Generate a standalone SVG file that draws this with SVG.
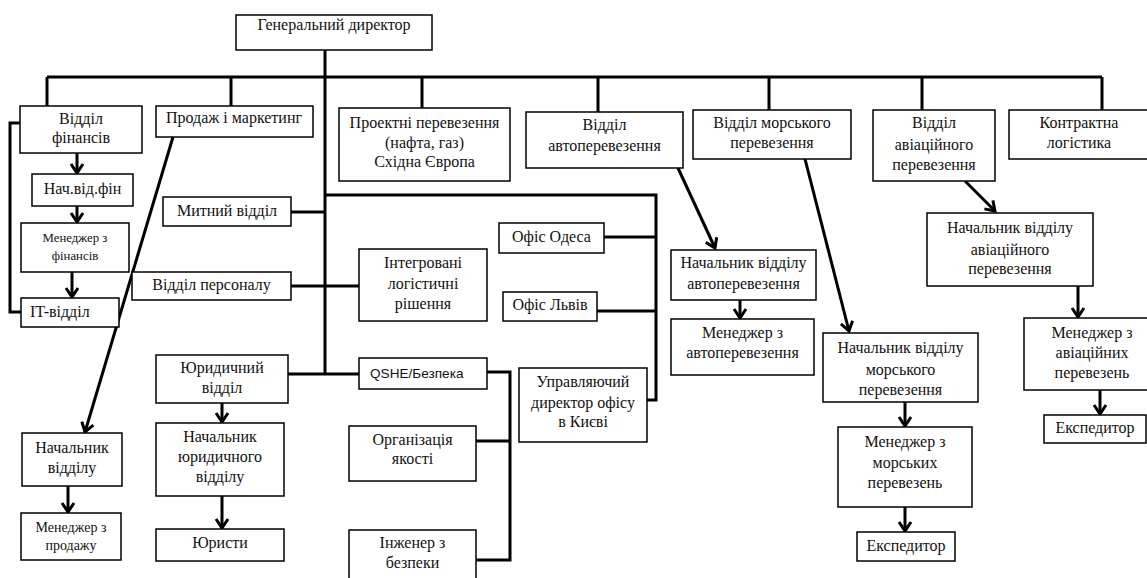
<svg xmlns="http://www.w3.org/2000/svg" width="1147" height="578" viewBox="0 0 1147 578">
<defs>
<style>
.b{fill:#fff;stroke:#000;stroke-width:1.5}
.t{font-family:"Liberation Serif","Times New Roman",serif;font-size:16px;fill:#111;text-anchor:middle}
.q{font-family:"Liberation Sans",Arial,sans-serif;font-size:13.6px;fill:#111}
.c{fill:none;stroke:#000;stroke-width:3}
.a{fill:none;stroke:#000;stroke-width:3;marker-end:url(#ah)}
</style>
<marker id="ah" markerUnits="userSpaceOnUse" viewBox="-12 -8 14 16" refX="0" refY="0" markerWidth="14" markerHeight="16" orient="auto" overflow="visible">
<path d="M-9,-6 L0,0 L-9,6" fill="none" stroke="#000" stroke-width="3" stroke-linejoin="miter"/>
</marker>
</defs>
<rect width="1147" height="578" fill="#fff"/>
<g id="connectors">
<path class="c" d="M325,50 V374"/>
<path class="c" d="M47,77 H1102"/>
<path class="c" d="M47,77 V106 M231,77 V106 M422,77 V108 M598,77 V112 M769,77 V110 M922,77 V110 M1102,77 V110"/>
<path class="c" d="M20,123 H10 V312 H21"/>
<path class="c" d="M291,212 H325"/>
<path class="c" d="M291,286 H359"/>
<path class="c" d="M288,374 H359"/>
<path class="c" d="M325,195 H656 V400 H647"/>
<path class="c" d="M604,237 H656 M597,311 H656"/>
<path class="c" d="M487,372 H510 V560 H476 M476,441 H510"/>
<path class="a" d="M77,153 V173"/>
<path class="a" d="M77,206 V222"/>
<path class="a" d="M72,272 V297"/>
<path class="a" d="M173,137 L85,432"/>
<path class="a" d="M68,486 V512"/>
<path class="a" d="M222,403 V422"/>
<path class="a" d="M222,496 V528"/>
<path class="a" d="M678,168 L715,248"/>
<path class="a" d="M740,300 V318"/>
<path class="a" d="M805,159 L849,331"/>
<path class="a" d="M905,402 V426"/>
<path class="a" d="M905,507 V531"/>
<path class="a" d="M965,181 L995,211"/>
<path class="a" d="M1078,286 V317"/>
<path class="a" d="M1100,390 V414"/>
</g>
<g id="gd"><rect class="b" x="236" y="15" width="196" height="35"/><text class="t" x="334" y="30">Генеральний директор</text></g>
<g id="fin"><rect class="b" x="20" y="106" width="122" height="47"/><text class="t" x="81" y="124">Відділ</text><text class="t" x="81" y="143">фінансів</text></g>
<g id="sales"><rect class="b" x="156" y="106" width="157" height="31"/><text class="t" x="234" y="123">Продаж і маркетинг</text></g>
<g id="proj"><rect class="b" x="339" y="108" width="171" height="73"/><text class="t" x="424.5" y="128">Проектні перевезення</text><text class="t" x="424.5" y="148">(нафта, газ)</text><text class="t" x="424.5" y="167">Східна Європа</text></g>
<g id="auto"><rect class="b" x="526" y="112" width="157" height="56"/><text class="t" x="604.5" y="130">Відділ</text><text class="t" x="604.5" y="151">автоперевезення</text></g>
<g id="sea"><rect class="b" x="693" y="110" width="158" height="49"/><text class="t" x="772" y="128">Відділ морського</text><text class="t" x="772" y="148">перевезення</text></g>
<g id="avia"><rect class="b" x="873" y="110" width="122" height="71"/><text class="t" x="934" y="128">Відділ</text><text class="t" x="934" y="150">авіаційного</text><text class="t" x="934" y="170">перевезення</text></g>
<g id="contract"><rect class="b" x="1009" y="110" width="141" height="49"/><text class="t" x="1079" y="128">Контрактна</text><text class="t" x="1079" y="148">логістика</text></g>
<g id="nach_fin"><rect class="b" x="32" y="174" width="101" height="32"/><text class="t" x="82.5" y="194">Нач.від.фін</text></g>
<g id="men_fin"><rect class="b" x="21" y="223" width="108" height="49"/><text class="t" x="75" y="242" style="font-size:12.8px">Менеджер з</text><text class="t" x="75" y="260" style="font-size:12.8px">фінансів</text></g>
<g id="it"><rect class="b" x="21" y="298" width="98" height="29"/><text class="t" x="30" y="317" style="text-anchor:start">IT-відділ</text></g>
<g id="customs"><rect class="b" x="163" y="197" width="128" height="29"/><text class="t" x="227" y="216">Митний відділ</text></g>
<g id="personnel"><rect class="b" x="132" y="272" width="159" height="28"/><text class="t" x="211.5" y="290">Відділ персоналу</text></g>
<g id="integrated"><rect class="b" x="359" y="249" width="128" height="72"/><text class="t" x="423" y="268">Інтегровані</text><text class="t" x="423" y="289">логістичні</text><text class="t" x="423" y="309">рішення</text></g>
<g id="odesa"><rect class="b" x="499" y="223" width="105" height="30"/><text class="t" x="551.5" y="242">Офіс Одеса</text></g>
<g id="lviv"><rect class="b" x="503" y="292" width="94" height="29"/><text class="t" x="550" y="310">Офіс Львів</text></g>
<g id="legal"><rect class="b" x="156" y="355" width="132" height="48"/><text class="t" x="222" y="373">Юридичний</text><text class="t" x="222" y="393">відділ</text></g>
<g id="qshe"><rect class="b" x="359" y="358" width="128" height="31"/><text class="q" x="370" y="378">QSHE/Безпека</text></g>
<g id="kyiv"><rect class="b" x="519" y="368" width="128" height="74"/><text class="t" x="583" y="387">Управляючий</text><text class="t" x="583" y="408">директор офісу</text><text class="t" x="583" y="427">в Києві</text></g>
<g id="quality"><rect class="b" x="349" y="426" width="127" height="55"/><text class="t" x="412.5" y="445">Організація</text><text class="t" x="412.5" y="464">якості</text></g>
<g id="safety_eng"><rect class="b" x="349" y="530" width="127" height="60"/><text class="t" x="412.5" y="548">Інженер з</text><text class="t" x="412.5" y="568">безпеки</text></g>
<g id="nach_sales"><rect class="b" x="22" y="433" width="100" height="53"/><text class="t" x="72" y="453">Начальник</text><text class="t" x="72" y="473">відділу</text></g>
<g id="men_sales"><rect class="b" x="21" y="513" width="100" height="47"/><text class="t" x="71" y="532" style="font-size:14px">Менеджер з</text><text class="t" x="71" y="550" style="font-size:14px">продажу</text></g>
<g id="nach_legal"><rect class="b" x="156" y="423" width="128" height="73"/><text class="t" x="220" y="442">Начальник</text><text class="t" x="220" y="462">юридичного</text><text class="t" x="220" y="482">відділу</text></g>
<g id="lawyers"><rect class="b" x="156" y="529" width="128" height="32"/><text class="t" x="220" y="548">Юристи</text></g>
<g id="nach_auto"><rect class="b" x="671" y="250" width="145" height="50"/><text class="t" x="743.5" y="268">Начальник відділу</text><text class="t" x="743.5" y="289">автоперевезення</text></g>
<g id="men_auto"><rect class="b" x="671" y="319" width="143" height="56"/><text class="t" x="742.5" y="338">Менеджер з</text><text class="t" x="742.5" y="358">автоперевезення</text></g>
<g id="nach_sea"><rect class="b" x="823" y="333" width="155" height="69"/><text class="t" x="900.5" y="353">Начальник відділу</text><text class="t" x="900.5" y="375">морського</text><text class="t" x="900.5" y="395">перевезення</text></g>
<g id="men_sea"><rect class="b" x="838" y="427" width="134" height="80"/><text class="t" x="905" y="447">Менеджер з</text><text class="t" x="905" y="468">морських</text><text class="t" x="905" y="488">перевезень</text></g>
<g id="exp_sea"><rect class="b" x="857" y="532" width="98" height="29"/><text class="t" x="906" y="551">Експедитор</text></g>
<g id="nach_avia"><rect class="b" x="927" y="213" width="166" height="73"/><text class="t" x="1010" y="233">Начальник відділу</text><text class="t" x="1010" y="255">авіаційного</text><text class="t" x="1010" y="274">перевезення</text></g>
<g id="men_avia"><rect class="b" x="1024" y="318" width="136" height="72"/><text class="t" x="1092" y="338">Менеджер з</text><text class="t" x="1092" y="358">авіаційних</text><text class="t" x="1092" y="378">перевезень</text></g>
<g id="exp_avia"><rect class="b" x="1044" y="415" width="102" height="28"/><text class="t" x="1095" y="433">Експедитор</text></g>
</svg>
